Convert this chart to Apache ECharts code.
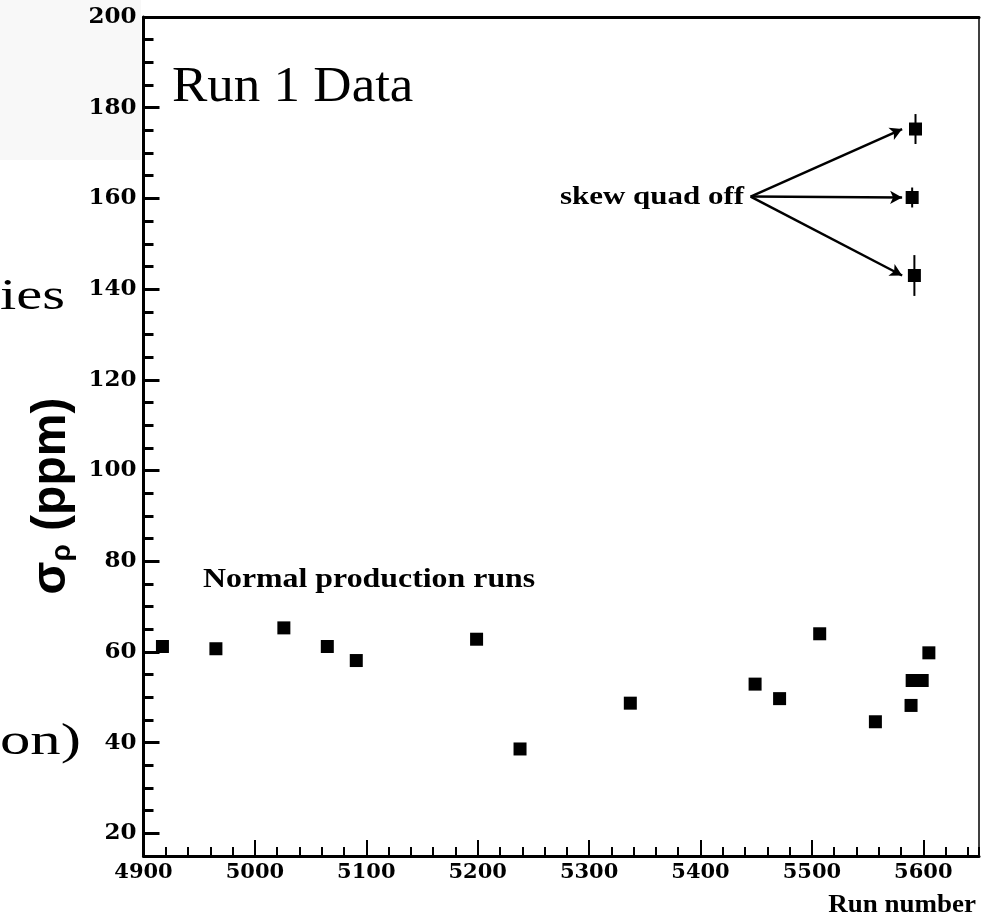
<!DOCTYPE html>
<html>
<head>
<meta charset="utf-8">
<script src="https://cdn.jsdelivr.net/npm/echarts@6/dist/echarts.min.js"></script>
<style>
  html, body { margin: 0; padding: 0; background: #ffffff; }
  #chart { width: 982px; height: 924px; }
</style>
</head>
<body>
<div id="chart"></div>
<script>
// Normal production runs: run number and sigma_rho (ppm)
const normalRuns  = [4917, 4965, 5026, 5065, 5091, 5199, 5238, 5337, 5449, 5471, 5507, 5557, 5589, 5590, 5599, 5605];
const normalSigma = [61.2, 60.7, 65.3, 61.2, 58.1, 62.8, 38.6, 48.7, 52.9, 49.7, 64.0, 44.6, 48.2, 53.7, 53.7, 59.8];

// Runs taken with the skew quad off, with their errors
const skewRuns  = [5593, 5590, 5592];
const skewSigma = [175.3, 160.2, 143.0];
const skewErr   = [3.3, 2.2, 4.5];

// Arrow from the "skew quad off" note to each of those runs
const arrowFrom = [5445, 160.4];
const arrowTipRun = 5581;

// Axis ranges and labelled ticks
const xMin = 4900, xMax = 5650, xMinorStep = 20;
const yMin = 15, yMax = 200, yMinorStep = 5;
const xMajorTicks = [4900, 5000, 5100, 5200, 5300, 5400, 5500, 5600];
const yMajorTicks = [20, 40, 60, 80, 100, 120, 140, 160, 180, 200];

const SERIF = "'Liberation Serif', 'Times New Roman', serif";
const WIDE_SERIF = "'DejaVu Serif', 'Liberation Serif', serif";
const SANS = "'Liberation Sans', Arial, sans-serif";

const chart = echarts.init(document.getElementById('chart'), null, { renderer: 'canvas' });

const normalData = normalRuns.map((r, i) => [r, normalSigma[i]]);
const skewData = skewRuns.map((r, i) => [r, skewSigma[i], skewErr[i]]);

const noLabel = { show: false };
const noSplit = { show: false };

// Free text on the canvas, optionally widened horizontally
function note(text, x, y, font, align, scaleX) {
  return {
    type: 'text', silent: true,
    x: x, y: y, scaleX: scaleX || 1, scaleY: 1,
    style: { x: 0, y: 0, text: text, font: font, fill: '#000', verticalAlign: 'middle', align: align }
  };
}

const option = {
  animation: false,
  backgroundColor: '#ffffff',
  grid: { left: 143.5, right: 2, top: 17, bottom: 68, containLabel: false },
  xAxis: [
    {
      // minor ticks + labels
      type: 'value', min: xMin, max: xMax, interval: xMinorStep, position: 'bottom',
      axisLine: { show: true, onZero: false, lineStyle: { color: '#000', width: 3 } },
      axisTick: { show: true, inside: true, length: 9, lineStyle: { color: '#000', width: 2 } },
      axisLabel: {
        show: true, margin: 6, color: '#000', fontFamily: WIDE_SERIF, fontWeight: 'bold', fontSize: 21,
        formatter: v => (xMajorTicks.indexOf(v) >= 0 ? String(v) : '')
      },
      splitLine: noSplit
    },
    {
      // major ticks
      type: 'value', min: xMin, max: xMax, position: 'bottom',
      axisLine: { show: false, onZero: false },
      axisTick: { show: true, inside: true, length: 16, customValues: xMajorTicks, lineStyle: { color: '#000', width: 2 } },
      axisLabel: noLabel, splitLine: noSplit
    },
    {
      // top frame
      type: 'value', min: xMin, max: xMax, position: 'top',
      axisLine: { show: true, onZero: false, lineStyle: { color: '#000', width: 3 } },
      axisTick: { show: false }, axisLabel: noLabel, splitLine: noSplit
    }
  ],
  yAxis: [
    {
      type: 'value', min: yMin, max: yMax, interval: yMinorStep, position: 'left',
      axisLine: { show: true, onZero: false, lineStyle: { color: '#000', width: 3 } },
      axisTick: { show: true, inside: true, length: 10, lineStyle: { color: '#000', width: 3 } },
      axisLabel: {
        show: true, margin: 7, color: '#000', fontFamily: WIDE_SERIF, fontWeight: 'bold', fontSize: 23,
        formatter: v => (yMajorTicks.indexOf(v) >= 0 ? String(v) : '')
      },
      splitLine: noSplit
    },
    {
      type: 'value', min: yMin, max: yMax, position: 'left',
      axisLine: { show: false, onZero: false },
      axisTick: { show: true, inside: true, length: 16, customValues: yMajorTicks, lineStyle: { color: '#000', width: 3 } },
      axisLabel: noLabel, splitLine: noSplit
    },
    {
      // right frame
      type: 'value', min: yMin, max: yMax, position: 'right',
      axisLine: { show: true, onZero: false, lineStyle: { color: '#000', width: 1.5 } },
      axisTick: { show: false }, axisLabel: noLabel, splitLine: noSplit
    }
  ],
  series: [
    {
      name: 'Normal production runs',
      type: 'scatter', xAxisIndex: 0, yAxisIndex: 0, z: 5,
      symbol: 'rect', symbolSize: 13,
      itemStyle: { color: '#000', opacity: 1 },
      data: normalData,
      silent: true
    },
    {
      name: 'skew quad off errors',
      type: 'custom', xAxisIndex: 0, yAxisIndex: 0, z: 4,
      data: skewData,
      silent: true,
      renderItem: (params, api) => {
        const x = api.value(0), y = api.value(1), e = api.value(2);
        const lo = api.coord([x, y - e]);
        const hi = api.coord([x, y + e]);
        return {
          type: 'line',
          shape: { x1: lo[0], y1: lo[1], x2: hi[0], y2: hi[1] },
          style: { stroke: '#000', lineWidth: 2 }
        };
      }
    },
    {
      name: 'skew quad off',
      type: 'scatter', xAxisIndex: 0, yAxisIndex: 0, z: 5,
      symbol: 'rect', symbolSize: 13,
      itemStyle: { color: '#000', opacity: 1 },
      data: skewData.map(d => [d[0], d[1]]),
      silent: true,
      markLine: {
        silent: true,
        symbol: ['none', 'arrow'],
        symbolSize: [10, 12],
        label: { show: false },
        lineStyle: { color: '#000', width: 2.5, type: 'solid', opacity: 1 },
        emphasis: { disabled: true },
        data: skewSigma.map(v => [{ coord: arrowFrom }, { coord: [arrowTipRun, v] }])
      }
    }
  ],
  graphic: [
    {
      type: 'rect', z: -10, silent: true,
      shape: { x: 0, y: 0, width: 141, height: 160 },
      style: { fill: '#f8f8f8' }
    },
    note('Run 1 Data', 172, 88, '50px ' + SERIF, 'left', 1.06),
    note('skew quad off', 744, 197, 'bold 26px ' + SERIF, 'right', 1.19),
    note('Normal production runs', 203, 580, 'bold 27px ' + SERIF, 'left', 1.18),
    note('Run number', 976, 906, 'bold 25px ' + SERIF, 'right', 1.08),
    note('ies', 0, 297, '44px ' + SERIF, 'left', 1.33),
    note('on)', 0, 742, '44px ' + SERIF, 'left', 1.38),
    {
      type: 'text', silent: true,
      x: 52, y: 496, rotation: Math.PI / 2,
      style: {
        x: 0, y: 0, align: 'center', verticalAlign: 'middle',
        text: '{s|σ}{sub|ρ}{s| (ppm)}',
        rich: {
          s: { font: 'bold 48px ' + SANS, fill: '#000', verticalAlign: 'bottom' },
          sub: { font: 'bold 28px ' + SANS, fill: '#000', verticalAlign: 'bottom' }
        }
      }
    }
  ]
};

chart.setOption(option);
</script>
</body>
</html>
